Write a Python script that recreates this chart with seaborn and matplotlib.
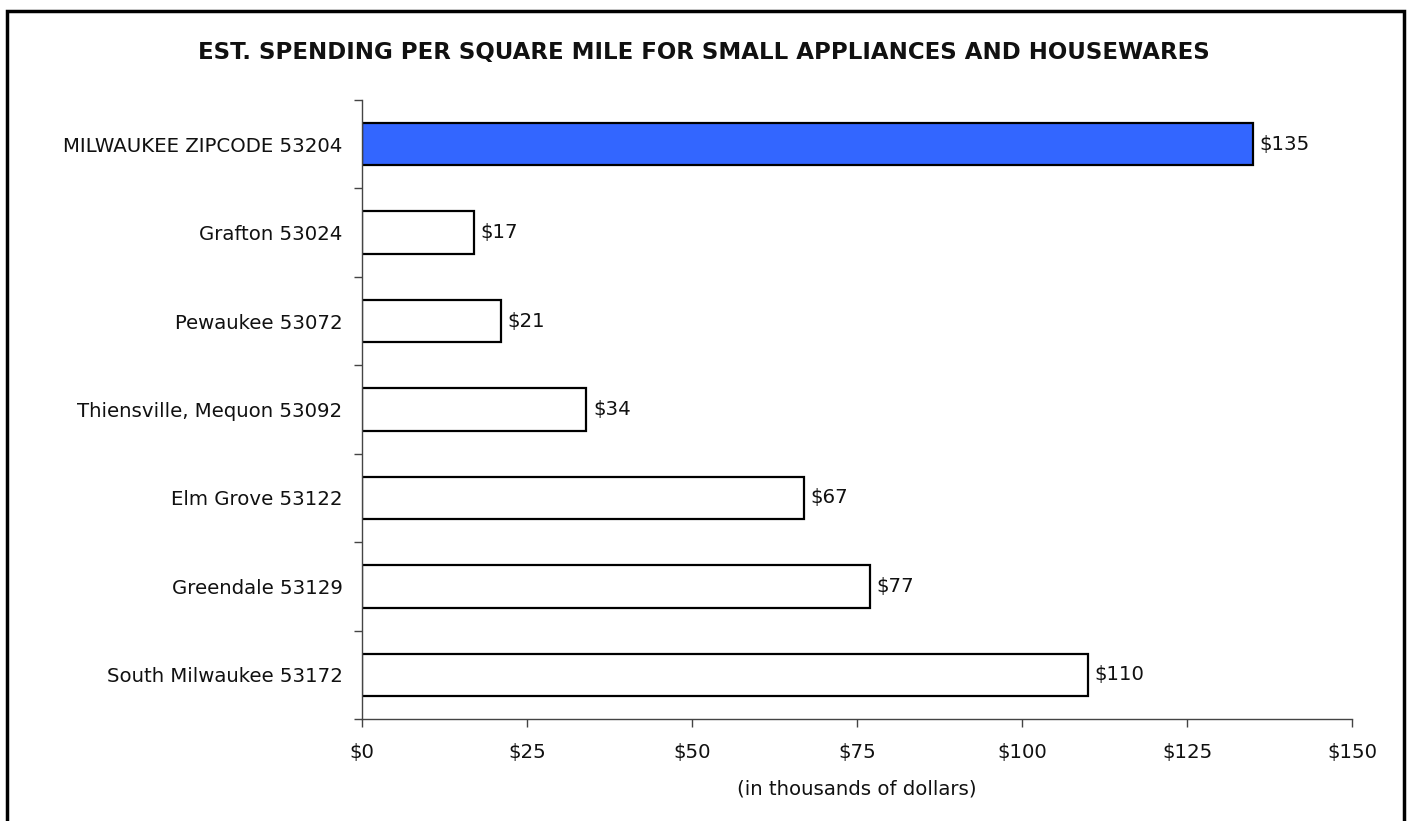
import matplotlib
matplotlib.use("Agg")
import matplotlib.pyplot as plt
import seaborn as sns
import pandas as pd
import numpy as np
from matplotlib.patches import Rectangle
from matplotlib.ticker import FixedLocator, FuncFormatter

categories = ["MILWAUKEE ZIPCODE 53204", "Grafton 53024", "Pewaukee 53072",
              "Thiensville, Mequon 53092", "Elm Grove 53122", "Greendale 53129",
              "South Milwaukee 53172"]
values = [135, 17, 21, 34, 67, 77, 110]
bar_colors = ["#3366FF", "#FFFFFF", "#FFFFFF", "#FFFFFF", "#FFFFFF", "#FFFFFF", "#FFFFFF"]
x_ticks = [0, 25, 50, 75, 100, 125, 150]
title = "EST. SPENDING PER SQUARE MILE FOR SMALL APPLIANCES AND HOUSEWARES"
xlabel = "(in thousands of dollars)"

sns.set_theme(style="white")
plt.rcParams['font.family'] = ['DejaVu Sans']

df = pd.DataFrame({"cat": categories, "val": values})

W, H = 1410, 821
FS = 14.2
fig = plt.figure(figsize=(W / 100, H / 100), dpi=100)
ax = fig.add_axes([362 / W, 1 - 719 / H, (1352 - 362) / W, (719 - 100) / H])

sns.barplot(data=df, y="cat", x="val", hue="cat", palette=bar_colors, legend=False,
            orient="h", width=0.48, edgecolor="black", linewidth=1.6, ax=ax, saturation=1)

ax.set_xlim(0, 150)
ax.set_ylim(len(categories) - 0.5, -0.5)
ax.set_xticks(x_ticks)
ax.xaxis.set_major_formatter(FuncFormatter(lambda v, p: f"${v:.0f}"))
ax.tick_params(axis="x", which="major", direction="out", length=6, width=1,
               color="#444444", labelsize=FS, pad=11, bottom=True)
ax.tick_params(axis="y", which="major", length=0, labelsize=FS, pad=14)
ax.yaxis.set_minor_locator(FixedLocator(np.arange(-0.5, len(categories) + 0.5, 1)))
ax.tick_params(axis="y", which="minor", direction="out", length=6, width=1,
               color="#444444", left=True)
for lab in ax.get_xticklabels() + ax.get_yticklabels():
    lab.set_color("#111111")

ax.set_ylabel("")
ax.set_xlabel(xlabel, fontsize=FS, labelpad=13, color="#111111")
for s in ["top", "right"]:
    ax.spines[s].set_visible(False)
for s in ["left", "bottom"]:
    ax.spines[s].set_color("#444444")
    ax.spines[s].set_linewidth(1)

for i, v in enumerate(values):
    ax.text(v + 1.0, i, f"${v}", va="center", ha="left", fontsize=FS, color="#111111")

fig.text(704 / W, 1 - 52 / H, title, ha="center", va="center", fontsize=16.5,
         fontweight="bold", color="#111111")

fig.add_artist(Rectangle((7 / W, -0.05), (1404 - 7) / W, 1.05 - 11 / H,
                         transform=fig.transFigure, fill=False, edgecolor="black",
                         linewidth=2.5))

fig.savefig("out.png", dpi=100)
